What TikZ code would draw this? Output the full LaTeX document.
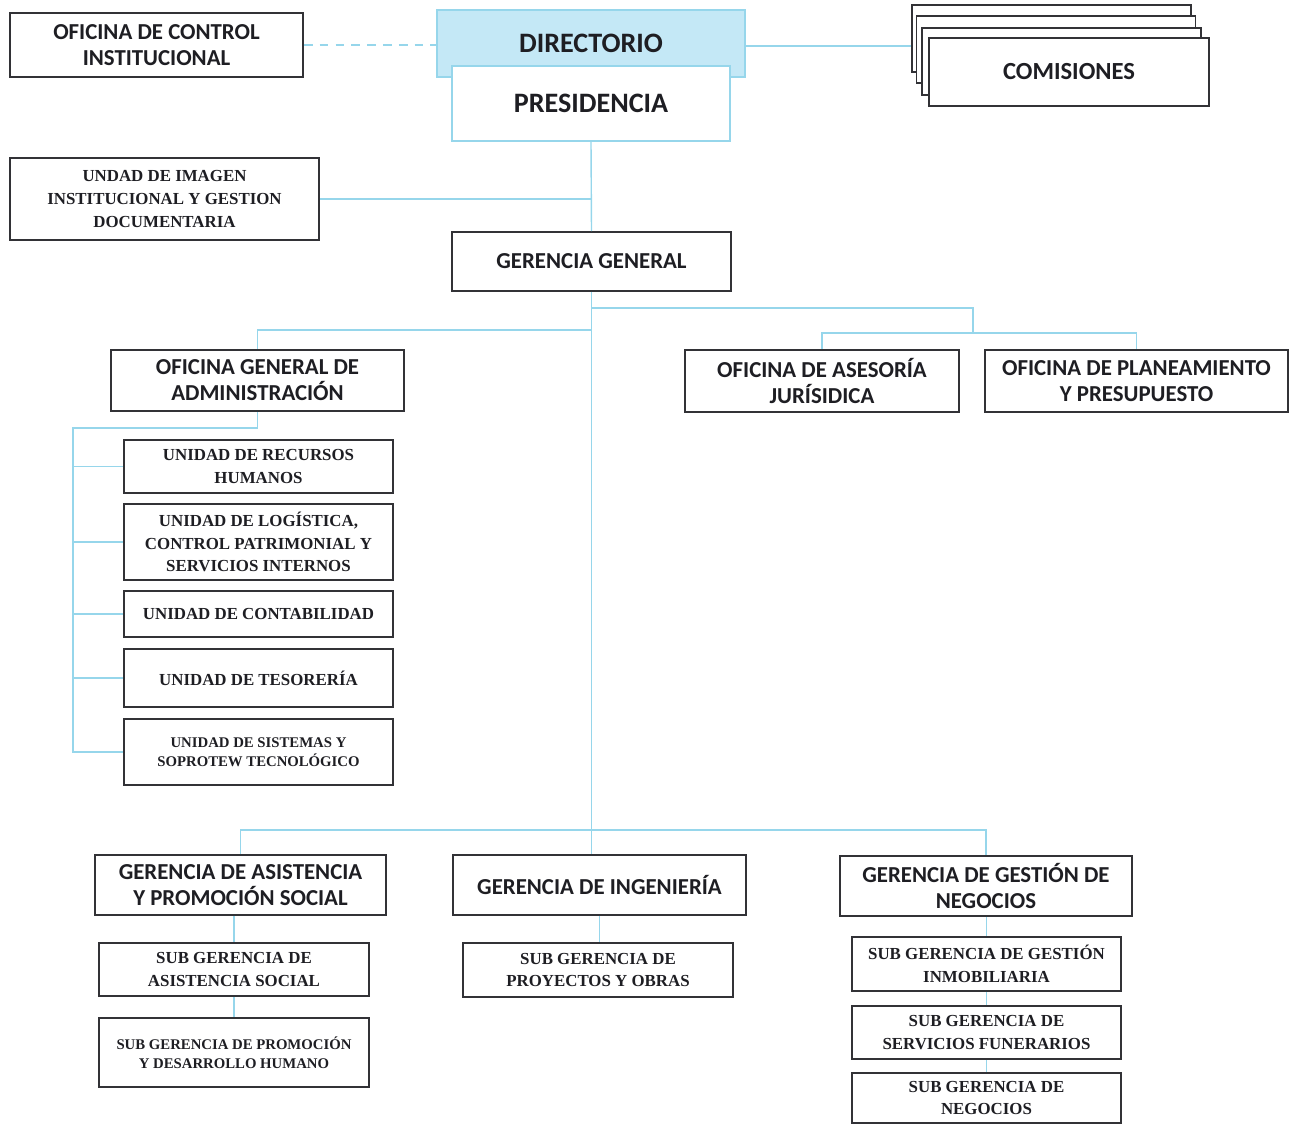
\documentclass[tikz,border=0pt]{standalone}
\usepackage{fontspec}
\setmainfont{Carlito}
\newfontfamily\serifa{Liberation Serif}
\usetikzlibrary{calc}

\definecolor{linea}{RGB}{150,214,235}
\definecolor{celeste}{RGB}{196,232,246}
\definecolor{borde}{RGB}{50,50,54}
\definecolor{tinta}{RGB}{30,30,35}

\tikzset{
  px/.style 2 args={minimum width=#1*0.02cm, minimum height=#2*0.02cm},
  caja/.style={draw=borde, line width=1pt, fill=white, align=center, inner sep=1pt, text=tinta},
  jefe/.style={caja, font=\bfseries\fontsize{13}{14.7}\selectfont},
  grande/.style={jefe, font=\bfseries\fontsize{16}{18}\selectfont},
  unidad/.style={caja, font=\serifa\bfseries\fontsize{9.6}{13}\selectfont},
  menor/.style={caja, font=\serifa\bfseries\fontsize{8.4}{11}\selectfont},
  enlace/.style={draw=linea, line width=0.8pt},
}

\begin{document}
\begin{tikzpicture}[x=0.02cm, y=-0.02cm]
\useasboundingbox (0,0) rectangle (1296,1125);

\node[jefe, px={293}{64}] (oci) at (156.5,45) {OFICINA DE CONTROL\\INSTITUCIONAL};
\node[grande, px={308}{67}, fill=celeste, draw=linea] (dir) at (591,43.5) {DIRECTORIO};
\node[grande, px={278}{75}, draw=linea] (pres) at (591,103.5) {PRESIDENCIA};

\node[caja, px={279}{67}] (com1) at (1051.5,38.5) {};
\node[caja, px={279}{67}] (com2) at (1056,49.5) {};
\node[caja, px={279}{67}] (com3) at (1061.5,61.5) {};
\node[jefe, px={280}{68}, font=\bfseries\fontsize{14}{16}\selectfont] (com) at (1069,72) {COMISIONES};

\node[unidad, px={309}{82}] (uig) at (164.5,199) {UNDAD DE IMAGEN\\INSTITUCIONAL Y GESTION\\DOCUMENTARIA};
\node[jefe, px={279}{59}] (gg) at (591.5,261.5) {GERENCIA GENERAL};

\node[jefe, px={293}{61}] (oga) at (257.5,380.5) {OFICINA GENERAL DE\\ADMINISTRACIÓN};
\node[jefe, px={274}{62}] (oaj) at (822,381) {OFICINA DE ASESORÍA\\JURÍSIDICA};
\node[jefe, px={303}{62}] (opp) at (1136.5,381) {OFICINA DE PLANEAMIENTO\\Y PRESUPUESTO};

\node[unidad, px={269}{53}] (urh) at (258.5,466.5) {UNIDAD DE RECURSOS\\HUMANOS};
\node[unidad, px={269}{76}] (ulc) at (258.5,542) {UNIDAD DE LOGÍSTICA,\\CONTROL PATRIMONIAL Y\\SERVICIOS INTERNOS};
\node[unidad, px={269}{46}] (uco) at (258.5,614) {UNIDAD DE CONTABILIDAD};
\node[unidad, px={269}{58}] (ute) at (258.5,678) {UNIDAD DE TESORERÍA};
\node[menor, px={269}{66}] (uss) at (258.5,752) {UNIDAD DE SISTEMAS Y\\SOPROTEW TECNOLÓGICO};

\node[jefe, px={291}{60}] (gaps) at (240.5,885) {GERENCIA DE ASISTENCIA\\Y PROMOCIÓN SOCIAL};
\node[unidad, px={270}{53}] (sgas) at (234,969.5) {SUB GERENCIA DE\\ASISTENCIA SOCIAL};
\node[menor, px={270}{69}] (sgpd) at (234,1052.5) {SUB GERENCIA DE PROMOCIÓN\\Y DESARROLLO HUMANO};

\node[jefe, px={293}{60}] (gin) at (599.5,885) {GERENCIA DE INGENIERÍA};
\node[unidad, px={270}{54}] (sgpo) at (598,970) {SUB GERENCIA DE\\PROYECTOS Y OBRAS};

\node[jefe, px={292}{60}] (ggn) at (986,886) {GERENCIA DE GESTIÓN DE\\NEGOCIOS};
\node[unidad, px={269}{54}] (sggi) at (986.5,964) {SUB GERENCIA DE GESTIÓN\\INMOBILIARIA};
\node[unidad, px={269}{53}] (sgsf) at (986.5,1032.5) {SUB GERENCIA DE\\SERVICIOS FUNERARIOS};
\node[unidad, px={269}{50}] (sgne) at (986.5,1098) {SUB GERENCIA DE\\NEGOCIOS};

\draw[enlace, dash pattern=on 5pt off 4pt] (oci.east) -- (oci.east -| dir.west);
\draw[enlace] ($(dir.east)+(0,2.5)$) -- ($(dir.east -| com1.west)+(0,2.5)$);
\draw[enlace] (pres.south) -- (gg.north);
\draw[enlace] (uig.east) -- (uig.east -| pres.south);
\draw[enlace] (gg.south) -- (gg.south |- gin.north);

\coordinate (ramaI) at (591.5,330);
\coordinate (cruce) at (591.5,308);
\coordinate (ramaD) at (973,333);
\draw[enlace] (ramaI) -| (oga.north);
\draw[enlace] (cruce) -| (ramaD);
\draw[enlace] (oaj.north) |- (ramaD) -| (opp.north);

\coordinate (ejeA) at (73,428);
\draw[enlace] (oga.south) |- (ejeA) |- (uss.west);
\foreach \u in {urh,ulc,uco,ute}
  \draw[enlace] (ejeA |- \u.west) -- (\u.west);

\coordinate (ramaB) at (591.5,830);
\draw[enlace] (gaps.north) |- (ramaB) -| (ggn.north);
\draw[enlace] (sgas.north |- gaps.south) -- (sgas.north);
\draw[enlace] (sgas.south) -- (sgpd.north);
\draw[enlace] (gin.south) -- (gin.south |- sgpo.north);
\foreach \a/\b in {ggn/sggi, sggi/sgsf, sgsf/sgne}
  \draw[enlace] (\b.north |- \a.south) -- (\b.north);

\end{tikzpicture}
\end{document}
